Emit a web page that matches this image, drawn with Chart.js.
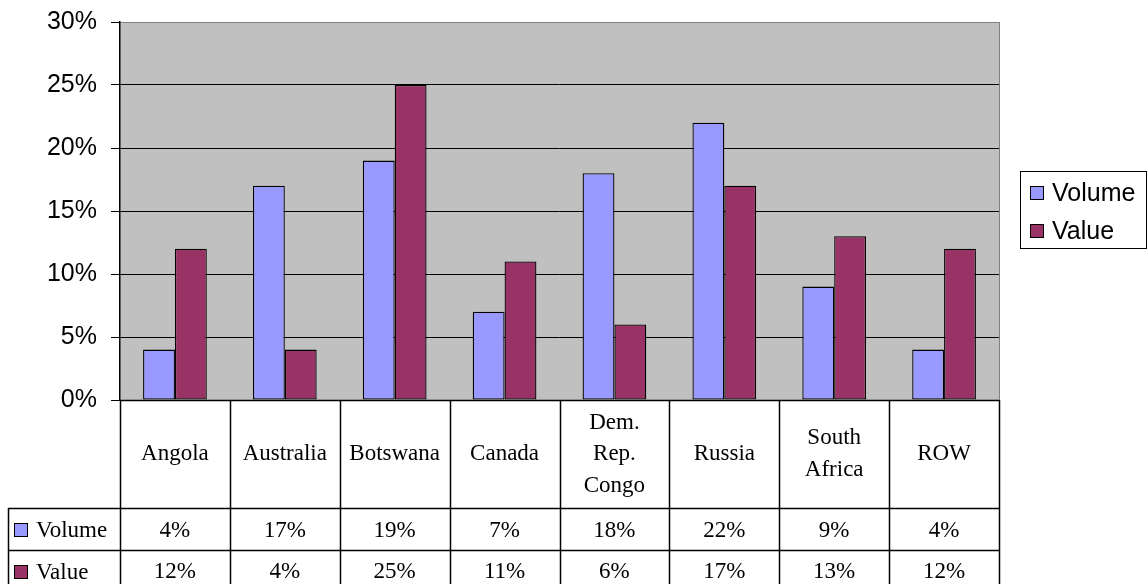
<!DOCTYPE html>
<html>
<head>
<meta charset="utf-8">
<script src="https://cdn.jsdelivr.net/npm/chart.js@4.4.1/dist/chart.umd.min.js"></script>
<style>
  html, body { margin: 0; padding: 0; background: #fff; }
  #wrap { width: 1148px; height: 584px; }
</style>
</head>
<body>
<div id="wrap"><canvas id="chart" width="1148" height="584"></canvas></div>
<script>
const categories = ['Angola', 'Australia', 'Botswana', 'Canada', ['Dem.', 'Rep.', 'Congo'], 'Russia', ['South', 'Africa'], 'ROW']
const volume = [4, 17, 19, 7, 18, 22, 9, 4]
const value = [12, 4, 25, 11, 6, 17, 13, 12]
const yTicks = [0, 5, 10, 15, 20, 25, 30]

const volumeColor = '#9999FF'
const valueColor = '#993366'
const serif = '"Liberation Serif", "Times New Roman", serif'
const sans = '"Liberation Sans", Arial, sans-serif'

const plotLeft = 120
const plotRight = 999
const rowCat = 508
const rowVol = 550
const rowEnd = 592

// plot background + right border
const plotBg = {
        id: 'plotBg',
        beforeDraw(chart) {
                const { ctx, chartArea: a } = chart
                ctx.save()
                ctx.fillStyle = '#C0C0C0'
                ctx.fillRect(a.left, a.top, a.right - a.left, a.bottom - a.top)
                ctx.strokeStyle = '#808080'
                ctx.lineWidth = 1
                ctx.beginPath()
                ctx.moveTo(a.right + 0.5, a.top)
                ctx.lineTo(a.right + 0.5, a.bottom)
                ctx.stroke()
                ctx.restore()
        }
}

// data table under the chart + legend box on the right
const dataTable = {
        id: 'dataTable',
        afterDraw(chart) {
                const { ctx, chartArea: a, scales } = chart
                const x = scales.x
                const n = categories.length
                const step = (a.right - a.left) / n
                const top = a.bottom
                ctx.save()
                ctx.strokeStyle = '#000'
                ctx.lineWidth = 1.5
                ctx.beginPath()
                for (let i = 0; i <= n; i++) {
                        const lx = Math.round(a.left + step * i) + 0.5
                        ctx.moveTo(lx, top)
                        ctx.lineTo(lx, rowEnd)
                }
                ctx.moveTo(a.left - 112, rowCat + 0.5)
                ctx.lineTo(a.right, rowCat + 0.5)
                ctx.moveTo(a.left - 112, rowVol + 0.5)
                ctx.lineTo(a.right, rowVol + 0.5)
                ctx.moveTo(a.left - 112 + 0.5, rowCat)
                ctx.lineTo(a.left - 112 + 0.5, rowEnd)
                ctx.moveTo(a.left, top + 0.5)
                ctx.lineTo(a.right, top + 0.5)
                ctx.stroke()

                ctx.fillStyle = '#000'
                ctx.font = '23px ' + serif
                ctx.textAlign = 'center'
                ctx.textBaseline = 'middle'
                const catMid = (top + rowCat) / 2
                categories.forEach((c, i) => {
                        const cx = x.getPixelForValue(i)
                        const lines = Array.isArray(c) ? c : [c]
                        const lh = 31.5
                        lines.forEach((l, j) => {
                                ctx.fillText(l, cx, catMid + (j - (lines.length - 1) / 2) * lh)
                        })
                        ctx.fillText(volume[i] + '%', cx, (rowCat + rowVol) / 2 + 2)
                        ctx.fillText(value[i] + '%', cx, (rowVol + rowEnd) / 2 + 1)
                })

                // row headers with keys
                const rows = [[rowCat, rowVol], [rowVol, rowEnd]]
                chart.data.datasets.forEach((ds, k) => {
                        const my = (rows[k][0] + rows[k][1]) / 2
                        ctx.fillStyle = ds.backgroundColor
                        ctx.fillRect(14.5, my - 5.5, 13, 13)
                        ctx.strokeStyle = '#000'
                        ctx.lineWidth = 1
                        ctx.strokeRect(14.5, my - 5.5, 13, 13)
                        ctx.fillStyle = '#000'
                        ctx.textAlign = 'left'
                        ctx.fillText(ds.label, 36, my + 2)
                })

                // legend box
                ctx.strokeStyle = '#000'
                ctx.lineWidth = 1
                ctx.strokeRect(1020.5, 171.5, 126, 77)
                ctx.font = '25px ' + sans
                chart.data.datasets.forEach((ds, k) => {
                        const my = 193 + k * 38
                        ctx.fillStyle = ds.backgroundColor
                        ctx.fillRect(1030.5, my - 6.5, 13, 13)
                        ctx.strokeRect(1030.5, my - 6.5, 13, 13)
                        ctx.fillStyle = '#000'
                        ctx.textAlign = 'left'
                        ctx.fillText(ds.label, 1052, my + 1)
                })
                ctx.restore()
        }
}

new Chart(document.getElementById('chart'), {
        type: 'bar',
        data: {
                labels: categories,
                datasets: [{
                        label: 'Volume',
                        data: volume,
                        backgroundColor: volumeColor,
                        borderColor: '#000',
                        borderWidth: 1.3,
                        borderSkipped: false
                }, {
                        label: 'Value',
                        data: value,
                        backgroundColor: valueColor,
                        borderColor: '#000',
                        borderWidth: 1.3,
                        borderSkipped: false
                }]
        },
        options: {
                responsive: false,
                animation: false,
                events: [],
                layout: { padding: { left: 0, top: 22, right: 1148 - plotRight, bottom: 584 - 400 } },
                datasets: { bar: { categoryPercentage: 0.58, barPercentage: 1 } },
                plugins: { legend: { display: false }, tooltip: { enabled: false } },
                scales: {
                        x: { display: false, offset: true, grid: { display: false } },
                        y: {
                                min: 0,
                                max: 30,
                                afterFit: s => {
                                        s.width = plotLeft
                                        s.paddingTop = 0
                                        s.paddingBottom = 0
                                },
                                afterBuildTicks: s => { s.ticks = yTicks.map(v => ({ value: v })) },
                                border: { color: '#000', width: 1.5 },
                                grid: {
                                        color: c => c.tick && c.tick.value === 30 ? '#808080' : '#000',
                                        lineWidth: 1,
                                        tickLength: 9,
                                        tickColor: '#000'
                                },
                                ticks: {
                                        padding: 14,
                                        color: '#000',
                                        font: { family: sans, size: 25 },
                                        callback: v => v + '%'
                                }
                        }
                }
        },
        plugins: [plotBg, dataTable]
})
</script>
</body>
</html>
